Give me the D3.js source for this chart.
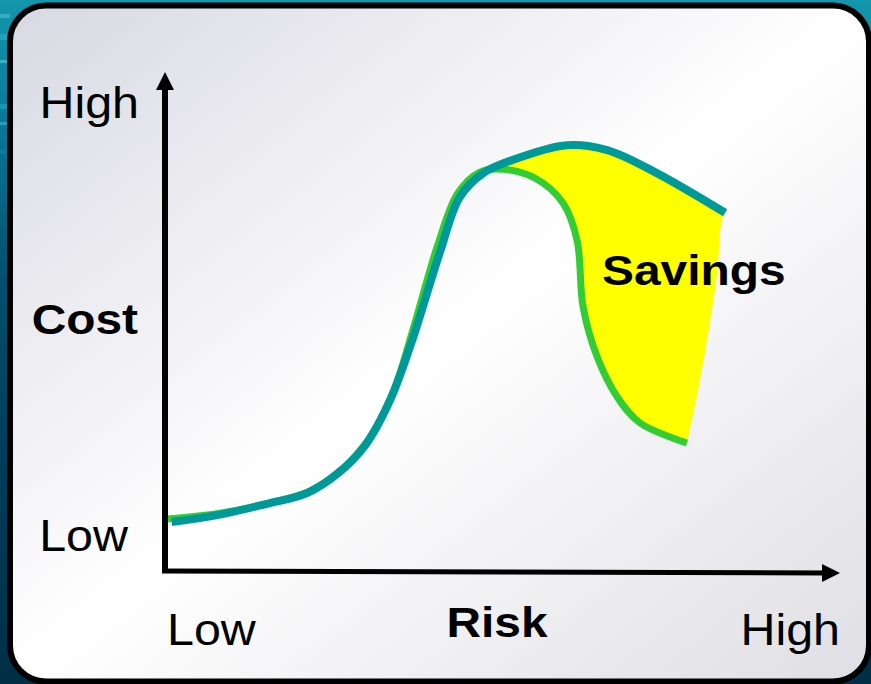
<!DOCTYPE html>
<html>
<head>
<meta charset="utf-8">
<script src="https://cdn.jsdelivr.net/npm/d3@7"></script>
<style>
  html, body { margin: 0; padding: 0; background: #00334d; }
  svg { display: block; }
  text { font-family: "Liberation Sans", Arial, sans-serif; fill: #000; }
</style>
</head>
<body>
<svg id="chart" width="871" height="684"></svg>
<script>
// Risk (x) vs cost (y), both on a relative 0–100 scale.
const baselineCurve = [ // teal: cost without mitigation
  [1.0, 9.8], [7.8, 11.2], [15.2, 13.5], [21.2, 15.7], [25.7, 19.6],
  [29.9, 25.5], [33.6, 34.7], [36.9, 46.9], [41.0, 64.7], [44.0, 76.1],
  [47.5, 81.0], [51.9, 83.7], [60.0, 86.7], [66.0, 85.7], [73.4, 81.0],
  [83.6, 72.9]
];
const reducedCurve = [ // green: cost with mitigation
  [0.45, 10.4], [8.2, 11.6], [15.7, 13.7], [21.6, 16.1], [26.1, 20.2],
  [30.3, 26.5], [33.9, 35.7], [37.0, 49.0], [40.7, 66.3], [43.7, 76.9],
  [47.0, 81.2], [50.4, 81.8], [55.2, 80.0], [59.4, 74.9], [61.5, 67.3],
  [62.4, 53.7], [64.5, 43.5], [67.5, 35.3], [70.9, 30.0], [77.9, 25.9]
];
const savingsEdge = [ // closing edge of the savings area
  [83.6, 72.9], [83.1, 71.4], [82.4, 60.6], [80.9, 46.9], [79.4, 35.7], [77.9, 25.9]
];
const savingsStart = 47; // risk level where the two curves part
const xTickLabels = ["Low", "High"];
const yTickLabels = ["Low", "High"];
const xTitle = "Risk";
const yTitle = "Cost";
const areaLabel = "Savings";

const W = 871, H = 684;
const svg = d3.select("#chart");
const defs = svg.append("defs");

// backdrop: teal fading into navy
const bg = defs.append("linearGradient").attr("id", "bg")
  .attr("x1", 0).attr("y1", 0).attr("x2", 0).attr("y2", 1);
[[0, "#1396ae"], [0.18, "#0a7898"], [0.4, "#04506f"], [0.7, "#003b58"], [1, "#002f47"]]
  .forEach(([o, c]) => bg.append("stop").attr("offset", o).attr("stop-color", c));
svg.append("rect").attr("width", W).attr("height", H).attr("fill", "url(#bg)");
// light streaks on the backdrop
[[14, 4, "#3fb3c6"], [34, 6, "#2aa5bb"], [60, 3, "#48bccd"], [104, 5, "#1d9cb3"], [122, 3, "#2fa9bf"], [150, 4, "#0f7f9c"]]
  .forEach(([y, h, c]) => svg.append("rect").attr("x", 0).attr("y", y).attr("width", 10).attr("height", h).attr("fill", c).attr("opacity", 0.8));

// panel
const pg = defs.append("linearGradient").attr("id", "panel")
  .attr("x1", 0).attr("y1", 0).attr("x2", 1).attr("y2", 1);
[[0, "#d8d8e2"], [0.5, "#ffffff"], [1, "#dedee4"]]
  .forEach(([o, c]) => pg.append("stop").attr("offset", o).attr("stop-color", c));
svg.append("rect")
  .attr("x", 10).attr("y", 5.5).attr("width", 859).attr("height", 676)
  .attr("rx", 36).attr("ry", 36)
  .attr("fill", "url(#panel)").attr("stroke", "#000").attr("stroke-width", 6);

const x = d3.scaleLinear().domain([0, 100]).range([165, 835]);
const y = d3.scaleLinear().domain([0, 100]).range([570, 80]);

const line = d3.line().x(d => x(d[0])).y(d => y(d[1])).curve(d3.curveCatmullRom.alpha(0.5));

// savings area between the curves
const upper = baselineCurve.filter(d => d[0] >= savingsStart);
const lower = reducedCurve.filter(d => d[0] >= savingsStart).slice().reverse();
const areaPath = line(upper) + line(savingsEdge).replace(/^M/, "L") + line(lower).replace(/^M/, "L") + "Z";
svg.append("path").attr("d", areaPath).attr("fill", "#ffff00");

svg.append("path").attr("d", line(reducedCurve))
  .attr("fill", "none").attr("stroke", "#33cc33").attr("stroke-width", 7);
svg.append("path").attr("d", line(baselineCurve))
  .attr("fill", "none").attr("stroke", "#009999").attr("stroke-width", 8);

// axes with arrowheads
const x0 = x(0), y0 = y(0) + 1;
const yTip = 72, xTip = 840;
svg.append("line").attr("x1", x0).attr("y1", y0 + 2).attr("x2", x0).attr("y2", yTip + 14)
  .attr("stroke", "#000").attr("stroke-width", 6);
svg.append("path").attr("d", `M${x0 - 9},${yTip + 18}L${x0},${yTip}L${x0 + 9},${yTip + 18}Z`).attr("fill", "#000");
svg.append("line").attr("x1", x0 - 3).attr("y1", y0).attr("x2", xTip - 14).attr("y2", y0 + 2)
  .attr("stroke", "#000").attr("stroke-width", 5);
svg.append("path").attr("d", `M${xTip - 18},${y0 - 7}L${xTip},${y0 + 2}L${xTip - 18},${y0 + 11}Z`).attr("fill", "#000");

// text helper: slightly widened glyphs
function label(tx, ty, str, opts) {
  const t = svg.append("text")
    .attr("transform", `translate(${tx},${ty}) scale(${opts.sx},1)`)
    .attr("text-anchor", opts.anchor || "start")
    .style("font-size", opts.size + "px")
    .text(str);
  if (opts.bold) t.style("font-weight", "bold");
  return t;
}
const reg = { size: 44, sx: 1.1 };
const bold = { size: 42, sx: 1.14, bold: true };

// tick labels at the axis ends
label(139, 118, yTickLabels[1], { ...reg, anchor: "end" });
label(128, 551, yTickLabels[0], { ...reg, anchor: "end" });
label(167, 645, xTickLabels[0], reg);
label(840, 645, xTickLabels[1], { ...reg, anchor: "end" });

// titles
label(138, 334, yTitle, { ...bold, anchor: "end" });
label(497, 637, xTitle, { ...bold, anchor: "middle" });
label(602, 285, areaLabel, bold);
</script>
</body>
</html>
